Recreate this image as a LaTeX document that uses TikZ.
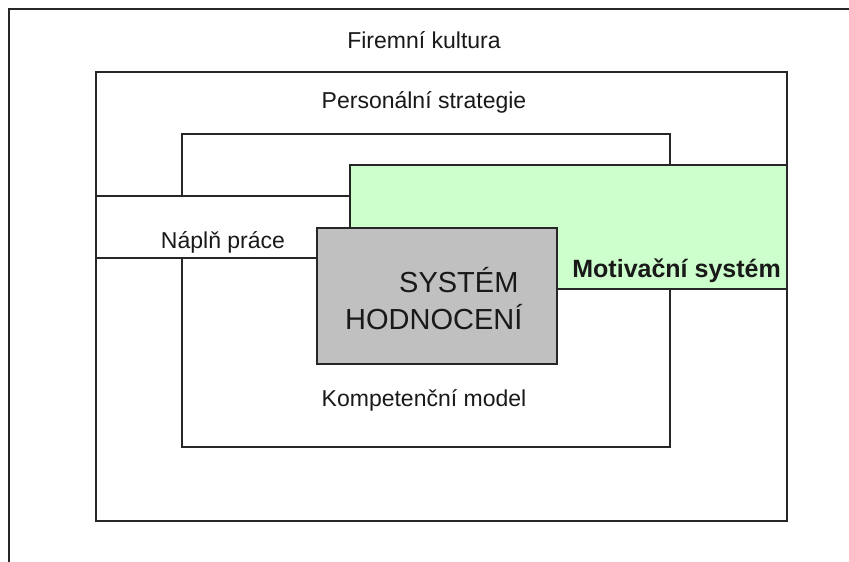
\documentclass[tikz,border=0pt]{standalone}
\usepackage{fontspec}
\setmainfont{Liberation Sans}
\usetikzlibrary{positioning}
\definecolor{motivgreen}{HTML}{CCFFCC}
\definecolor{hodngray}{HTML}{C0C0C0}

\begin{document}
\begin{tikzpicture}[x=1pt, y=-1pt,
		frame/.style = {draw=black!85, line width=1.5pt, fill=white, rectangle, inner sep=0pt, anchor=north west},
		lbl/.style = {font=\fontsize{23}{27}\selectfont, text=black!90, inner sep=0pt}]
		\useasboundingbox (0,0) rectangle (849,562);
		\coordinate (kulturaTR) at (849,9);
		\coordinate (kulturaTL) at (9,9);
		\coordinate (kulturaBL) at (9,562);
		\draw[draw=black!85, line width=1.5pt] (kulturaTR) -- (kulturaTL) -- (kulturaBL);
		\node[frame, minimum width=691pt, minimum height=449pt] (strategie) at (95,71) {};
		\node[frame, minimum width=488pt, minimum height=313pt] (kompetence) at (181,133) {};
		\node[frame, minimum width=305pt, minimum height=62pt] (naplne) at (95,195) {};
		\node[frame, fill=motivgreen, minimum width=437pt, minimum height=124pt] (motivace) at (349,164) {};
		\node[frame, fill=hodngray, minimum width=240pt, minimum height=136pt] (hodnoceni) at (316,227) {};
		\node[lbl] (tKultura) at (424,40) {Firemní kultura};
		\node[lbl] (tStrategie) at (424,102) {Personální strategie};
		\node[lbl] (tKompetence) at (424,400) {Kompetenční model};
		\node[lbl] (tNaplne) at (223,242) {Náplň práce};
		\node[lbl, font=\bfseries\fontsize{25}{29}\selectfont, anchor=east] (tMotivace) at (781,271) {Motivační systém};
		\node[lbl, font=\fontsize{29}{37}\selectfont, align=left, anchor=north west] (tHodnoceni) at (345,267) {\hspace*{54pt}SYSTÉM\\HODNOCENÍ};
	\end{tikzpicture}
\end{document}
